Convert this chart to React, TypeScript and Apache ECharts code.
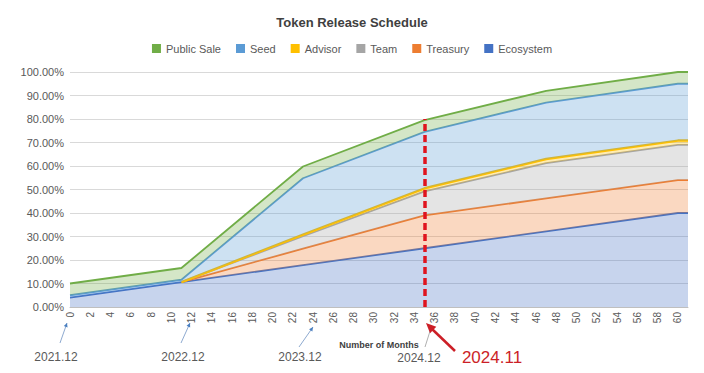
import React, { useEffect, useRef } from 'react';
import * as echarts from 'echarts';

// Months at which the release curves change slope
const months = [0, 11, 23, 35, 47, 60, 61];
// Released share (%) of total supply per allocation (not cumulative)
const ecosystem = [4, 10.6, 17.8, 25, 32.2, 40, 40];
const treasury = [null, 0, 7, 14, 14, 14, 14];
const team = [null, 0, 5.3, 10.2, 15, 15, 15];
const advisor = [null, 0, 0.7, 1.3, 1.8, 1.8, 1.8];
const seed = [1, 1, 24, 24, 24, 24.2, 24.2];
const publicSale = [5, 5, 5, 5, 5, 5, 5];

const seriesNames = ['Ecosystem', 'Treasury', 'Team', 'Advisor', 'Seed', 'Public Sale'];
const legendOrder = ['Public Sale', 'Seed', 'Advisor', 'Team', 'Treasury', 'Ecosystem'];
const seriesColors = ['#4472c4', '#ed7d31', '#a5a5a5', '#ffc000', '#5b9bd5', '#70ad47'];

const markerMonth = 35;
const markerTop = 80;

const dateLabels = ['2021.12', '2022.12', '2023.12', '2024.12'];
const highlightLabel = '2024.11';

function arrowHead(x1: number, y1: number, x2: number, y2: number, len: number, half: number) {
  const dx = x2 - x1;
  const dy = y2 - y1;
  const d = Math.sqrt(dx * dx + dy * dy);
  const ux = dx / d;
  const uy = dy / d;
  const bx = x2 - ux * len;
  const by = y2 - uy * len;
  return [
    [x2, y2],
    [bx - uy * half, by + ux * half],
    [bx + uy * half, by - ux * half],
  ];
}

export default function App() {
  const ref = useRef<HTMLDivElement>(null);

  useEffect(() => {
    if (!ref.current) return;
    const chart = echarts.init(ref.current, undefined, { renderer: 'svg' });
    const allData = [ecosystem, treasury, team, advisor, seed, publicSale];

    // value first, month second, so that the stack is applied to the y dimension
    const series: any[] = seriesNames.map((name, i) => ({
      name,
      type: 'line',
      stack: 'total',
      showSymbol: false,
      symbol: 'none',
      encode: { x: 1, y: 0 },
      data: months.map((m, k) => [allData[i][k] === null ? '-' : allData[i][k], m]),
      lineStyle: { color: seriesColors[i], width: i === 3 ? 2.5 : 1.8 },
      itemStyle: { color: seriesColors[i] },
      areaStyle: { color: seriesColors[i], opacity: 0.3 },
      z: 2 + i,
    }));

    series.push({
      name: 'marker',
      type: 'line',
      data: [],
      z: 20,
      markLine: {
        silent: true,
        symbol: ['none', 'none'],
        label: { show: false },
        lineStyle: { color: '#e0141e', width: 3.5, type: [7, 4] },
        data: [[{ coord: [markerMonth, 0] }, { coord: [markerMonth, markerTop] }]],
        z: 20,
      },
    });

    const grey = '#595959';
    const blue = '#8eaad0';
    const red = '#cc1f27';

    const blueArrows = [
      { from: [60, 343], to: [67, 323], label: dateLabels[0], lx: 56, ly: 357 },
      { from: [181, 343], to: [190, 323], label: dateLabels[1], lx: 183, ly: 357 },
      { from: [299, 347], to: [313, 327], label: dateLabels[2], lx: 300, ly: 357 },
    ];

    const graphic: any[] = [];
    blueArrows.forEach((a) => {
      graphic.push({
        type: 'line',
        shape: { x1: a.from[0], y1: a.from[1], x2: a.to[0], y2: a.to[1] },
        style: { stroke: blue, lineWidth: 1 },
      });
      graphic.push({
        type: 'polygon',
        shape: { points: arrowHead(a.from[0], a.from[1], a.to[0], a.to[1], 4, 2) },
        style: { fill: '#4a7fc0' },
      });
      graphic.push({
        type: 'text',
        x: a.lx,
        y: a.ly,
        style: {
          text: a.label,
          fill: grey,
          font: '12px "Liberation Sans", Arial, sans-serif',
          textAlign: 'center',
          textVerticalAlign: 'middle',
        },
      });
    });
    graphic.push({
      type: 'line',
      shape: { x1: 425, y1: 347, x2: 431, y2: 328 },
      style: { stroke: '#b0b0b0', lineWidth: 1 },
    });
    graphic.push({
      type: 'text',
      x: 419,
      y: 358,
      style: {
        text: dateLabels[3],
        fill: grey,
        font: '12px "Liberation Sans", Arial, sans-serif',
        textAlign: 'center',
        textVerticalAlign: 'middle',
      },
    });
    graphic.push({
      type: 'line',
      shape: { x1: 455, y1: 351, x2: 432, y2: 329 },
      style: { stroke: red, lineWidth: 2.5 },
    });
    graphic.push({
      type: 'polygon',
      shape: { points: arrowHead(455, 351, 426, 323, 10, 4.5) },
      style: { fill: red },
    });
    graphic.push({
      type: 'text',
      x: 492,
      y: 357,
      style: {
        text: highlightLabel,
        fill: red,
        font: '17px "Liberation Sans", Arial, sans-serif',
        textAlign: 'center',
        textVerticalAlign: 'middle',
      },
    });

    chart.setOption({
      animation: false,
      backgroundColor: '#ffffff',
      textStyle: { fontFamily: '"Liberation Sans", Arial, sans-serif' },
      title: {
        text: 'Token Release Schedule',
        left: 'center',
        top: 11,
        textStyle: { fontSize: 13, fontWeight: 'bold', color: '#404040' },
      },
      legend: {
        data: legendOrder,
        top: 38,
        left: 'center',
        icon: 'rect',
        itemWidth: 9,
        itemHeight: 9,
        itemGap: 15,
        textStyle: { fontSize: 11, color: grey },
      },
      grid: { left: 70, right: 16, top: 72, bottom: 66 },
      xAxis: {
        type: 'value',
        min: 0,
        max: 61,
        interval: 2,
        name: 'Number of Months',
        nameLocation: 'middle',
        nameGap: 33,
        nameTextStyle: { fontSize: 9, fontWeight: 'bold', color: '#404040' },
        axisLine: { show: true, lineStyle: { color: '#bfbfbf', width: 1 } },
        axisTick: { show: false },
        splitLine: { show: false },
        axisLabel: { rotate: 90, fontSize: 10, color: grey, margin: 5, showMaxLabel: false },
      },
      yAxis: {
        type: 'value',
        min: 0,
        max: 100,
        interval: 10,
        axisLine: { show: false },
        axisTick: { show: false },
        splitLine: { lineStyle: { color: '#d9d9d9', width: 1 } },
        axisLabel: {
          fontSize: 11,
          color: grey,
          margin: 6,
          formatter: (v: number) => v.toFixed(2) + '%',
        },
      },
      series,
      graphic,
    });

    return () => chart.dispose();
  }, []);

  return (
    <div
      ref={ref}
      style={{ position: 'fixed', left: 0, top: 0, width: 704, height: 373, background: '#fff' }}
    />
  );
}
